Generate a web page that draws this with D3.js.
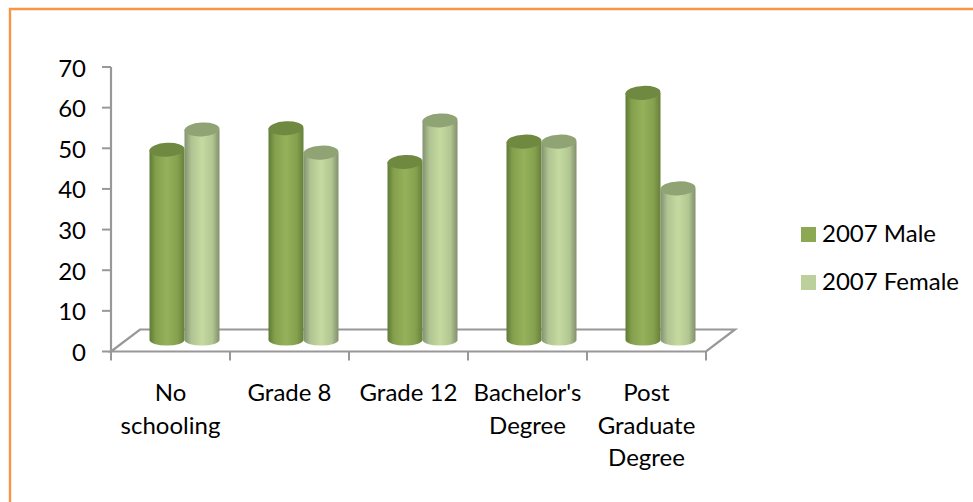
<!DOCTYPE html>
<html><head><meta charset="utf-8">
<style>html,body{margin:0;padding:0;background:#fff}svg{display:block}text{font-family:Lato,"Open Sans",sans-serif;fill:#000}</style>
<script src="https://cdn.jsdelivr.net/npm/d3@7"></script></head>
<body><svg id="c" width="973" height="502"></svg>
<script>
const categories=[["No","schooling"],["Grade 8"],["Grade 12"],["Bachelor's","Degree"],["Post","Graduate","Degree"]];
const male=[46.8,52.1,43.8,48.8,60.8];
const female=[51.8,46.1,54,48.8,37.3];
const ticks=[0,10,20,30,40,50,60,70];
const seriesNames=["2007 Male","2007 Female"];

const svg=d3.select("#c");
const defs=svg.append("defs");
svg.append("path").attr("d","M10,502V9H973").attr("fill","none").attr("stroke","#f79646").attr("stroke-width",2.4);

const y=d3.scaleLinear().domain([0,70]).range([351.5,67]);
const x=d3.scaleBand().domain(d3.range(5)).range([111,706]);
const dx=29,dy=-22,gray="#989898";
const g=svg.append("g");
g.append("path").attr("d",`M111,${y(0)}L${111+dx},${y(0)+dy}H${706+dx}L706,${y(0)}Z`).attr("fill","none").attr("stroke",gray).attr("stroke-width",2.2);
g.append("path").attr("d",`M111,${y(70)}V${y(0)}`).attr("stroke",gray).attr("stroke-width",2.2);
ticks.forEach(t=>{
 g.append("line").attr("x1",102).attr("x2",111).attr("y1",y(t)).attr("y2",y(t)).attr("stroke",gray).attr("stroke-width",2);
 g.append("text").attr("x",86).attr("y",y(t)+9.5).attr("text-anchor","end").attr("font-size",24).text(t);
});
d3.range(6).forEach(i=>{
 const tx=i<5?x(i):706;
 g.append("line").attr("x1",tx).attr("x2",tx).attr("y1",y(0)).attr("y2",y(0)+9).attr("stroke",gray).attr("stroke-width",2);
});
categories.forEach((lines,i)=>{
 const t=g.append("text").attr("text-anchor","middle").attr("font-size",24);
 lines.forEach((l,k)=>t.append("tspan").attr("x",x(i)+x.bandwidth()/2).attr("y",401+k*32.5).text(l));
});
function grad(id,stops){
 const lg=defs.append("linearGradient").attr("id",id);
 stops.forEach(([o,c])=>lg.append("stop").attr("offset",o).attr("stop-color",c));
}
grad("gm",[[0,"#5f7a36"],[.18,"#84a04d"],[.5,"#95b15a"],[.8,"#86a14e"],[1,"#66803a"]]);
grad("gf",[[0,"#829270"],[.2,"#b0c492"],[.5,"#c5d9a0"],[.8,"#b2c692"],[1,"#828f6c"]]);
const w=35,rx=w/2,ry=7,off=-11.5;
function cyl(v,cx,fill,cap){
 const yt=y(v)+off,yb=y(0)+off;
 const p=g.append("g");
 p.append("path").attr("d",`M${cx-rx},${yt}V${yb}A${rx},5.5 0 0 0 ${cx+rx},${yb}V${yt}Z`).attr("fill",`url(#${fill})`);
 p.append("ellipse").attr("cx",cx).attr("cy",yt).attr("rx",rx).attr("ry",ry).attr("transform",`rotate(-3 ${cx} ${yt})`).attr("fill",cap);
}
categories.forEach((_,i)=>{
 const c=x(i)+x.bandwidth()/2+14;
 cyl(male[i],c-w/2,"gm","#6f8a40");
 cyl(female[i],c+w/2,"gf","#8fa374");
});
seriesNames.forEach((n,i)=>{
 const yy=234.5+i*48;
 svg.append("rect").attr("x",801).attr("y",yy-7.5).attr("width",15).attr("height",15).attr("fill",i?"#bbd09a":"#8ca852");
 svg.append("text").attr("x",822).attr("y",yy+7).attr("font-size",24).text(n);
});
</script></body></html>
